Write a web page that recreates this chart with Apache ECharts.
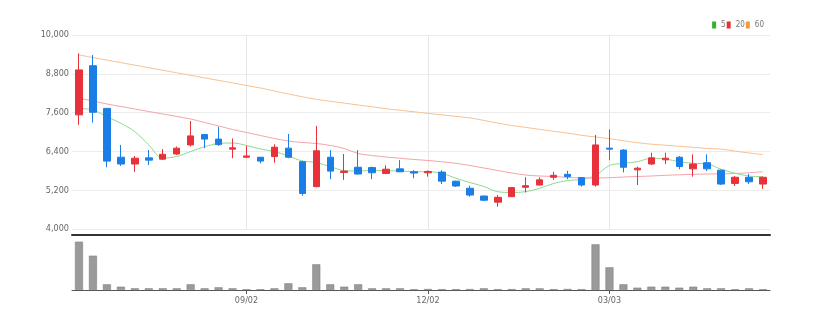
<!DOCTYPE html>
<html><head><meta charset="utf-8">
<script src="https://cdn.jsdelivr.net/npm/echarts@6/dist/echarts.min.js"></script>
<style>html,body{margin:0;padding:0;background:#fff}#c{width:820px;height:326px}</style>
</head><body><div id="c"></div>
<script>
const dates = ['06/10','06/17','06/24','07/01','07/08','07/15','07/22','07/29','08/05','08/12','08/19','08/26',
'09/02','09/09','09/16','09/23','09/30','10/07','10/14','10/21','10/28','11/04','11/11','11/18','11/25',
'12/02','12/09','12/16','12/23','12/30','01/06','01/13','01/20','01/27','02/03','02/10','02/17','02/24',
'03/03','03/10','03/17','03/24','03/31','04/07','04/14','04/21','04/28','05/05','05/12','05/19'];
const shownLabels = ['09/02','12/02','03/03'];
// [open, close, low, high]
const ohlc = [
[7530,8920,7220,9430],[9050,7610,7290,9380],[7730,6100,5910,7730],[6220,6010,5950,6600],[6010,6190,5770,6260],
[6200,6130,5980,6440],[6160,6310,6130,6470],[6320,6500,6290,6550],[6600,6880,6550,7340],[6920,6780,6500,6930],
[6780,6610,6570,7160],[6470,6510,6190,6800],[6220,6260,6190,6570],[6220,6100,6030,6230],[6240,6530,6050,6620],
[6500,6220,6190,6940],[6080,5100,5030,6110],[5310,6420,5290,7190],[6220,5790,5540,6440],[5750,5790,5520,6320],
[5910,5700,5690,6440],[5900,5740,5540,5930],[5720,5850,5700,5970],[5860,5770,5760,6130],[5770,5730,5570,5820],
[5740,5780,5620,5810],[5760,5480,5390,5820],[5480,5330,5300,5490],[5260,5050,5000,5340],[5020,4890,4860,5030],
[4830,4980,4690,5050],[5000,5280,4990,5290],[5290,5340,5130,5600],[5360,5520,5350,5600],[5600,5660,5520,5770],
[5690,5620,5540,5800],[5590,5360,5310,5600],[5360,6600,5310,6910],[6500,6470,6130,7080],[6440,5910,5750,6470],
[5830,5880,5360,5930],[6010,6200,5980,6360],[6140,6190,6010,6360],[6220,5930,5850,6260],[5860,6010,5620,6310],
[6050,5860,5790,6310],[5820,5390,5360,5840],[5410,5600,5330,5640],[5600,5460,5390,5700],[5390,5600,5240,5620]];
const ma5 = [7727,7681,7473,7269,7010,6598,6196,6242,6397,6546,6645,6660,6583,6474,6397,6258,6103,6057,5927,5809,
5794,5809,5800,5794,5772,5772,5723,5568,5438,5315,5154,5129,5154,5259,5407,5500,5531,5655,5964,6032,
6082,6187,6165,6082,6032,6010,5847,5723,5639,5618];
const ma20 = [8043,7959,7866,7789,7712,7634,7557,7480,7402,7294,7186,7078,6985,6892,6799,6722,6675,6645,6583,6490,
6335,6273,6227,6187,6150,6119,6078,6032,5964,5887,5809,5732,5670,5639,5624,5599,5577,5577,5587,5608,
5624,5639,5661,5676,5692,5701,5707,5717,5738,5772];
const ma60 = [9382,9304,9224,9147,9066,8989,8911,8831,8754,8673,8596,8518,8438,8361,8268,8176,8089,8009,7950,7894,
7835,7780,7721,7671,7625,7576,7529,7483,7436,7359,7276,7201,7143,7081,7022,6966,6898,6846,6793,6731,
6669,6623,6592,6558,6527,6490,6471,6409,6351,6301];
const volume = [483000,343000,57000,33000,17000,17000,17000,17000,57000,17000,27000,17000,7000,7000,17000,67000,27000,257000,57000,33000,
57000,17000,17000,17000,7000,10000,8000,8000,9000,17000,8000,9000,17000,17000,8000,10000,8000,457000,227000,57000,
23000,33000,33000,23000,33000,17000,17000,7000,17000,7000];
const yTicks = {min:4000, max:10000, interval:1200};

const FONT = "'Liberation Sans Narrow','DejaVu Sans Condensed','Roboto Condensed','Liberation Sans',sans-serif";
const showIdx = (i) => shownLabels.indexOf(dates[i]) >= 0;
const chart = echarts.init(document.getElementById('c'));
chart.setOption({
  animation:false,
  backgroundColor:'#fff',
  legend:{top:16,right:51,itemWidth:4,itemHeight:7,itemGap:1,icon:'rect',
    textStyle:{fontSize:8,color:'#777',fontFamily:FONT},
    data:['5','20','60']},
  grid:[{left:72,width:698,top:35,height:194},{left:72,width:698,top:235,height:55}],
  xAxis:[
    {type:'category',gridIndex:0,data:dates,boundaryGap:true,offset:6,
     axisLine:{show:true,lineStyle:{color:'#333',width:2}},axisTick:{show:false},axisLabel:{show:false},
     splitLine:{show:false}},
    {type:'category',gridIndex:1,data:dates,boundaryGap:true,
     axisLine:{show:true,lineStyle:{color:'#555',width:1}},
     axisTick:{show:true,alignWithLabel:true,interval:(i)=>showIdx(i),length:4,lineStyle:{color:'#555'}},
     axisLabel:{show:true,interval:(i)=>showIdx(i),fontSize:9,color:'#666',fontFamily:FONT,margin:6},
     splitLine:{show:false}}
  ],
  yAxis:[
    {type:'value',gridIndex:0,min:yTicks.min,max:yTicks.max,interval:yTicks.interval,
     axisLine:{show:false},axisTick:{show:false},
     axisLabel:{fontSize:9,color:'#666',fontFamily:FONT,margin:3},
     splitLine:{lineStyle:{color:'#ececec'}}},
    {type:'value',gridIndex:1,min:0,max:550000,show:false,splitLine:{show:false}}
  ],
  series:[
    {type:'candlestick',xAxisIndex:0,yAxisIndex:0,data:ohlc,barWidth:7,z:3,
     itemStyle:{color:'#e8313b',color0:'#1b7ee6',borderColor:'#e8313b',borderColor0:'#1b7ee6',borderWidth:1},
     markLine:{silent:true,symbol:'none',label:{show:false},animation:false,z:1,
       lineStyle:{color:'#e6e6e6',width:1,type:'solid'},
       data:shownLabels.map(d=>({xAxis:d}))}},
    {name:'5',type:'line',data:ma5,smooth:0.35,symbol:'none',z:2,
     itemStyle:{color:'#2db52d'},lineStyle:{color:'#8fd98f',width:1}},
    {name:'20',type:'line',data:ma20,smooth:0.35,symbol:'none',z:2,
     itemStyle:{color:'#e8313b'},lineStyle:{color:'#f5a3a8',width:1}},
    {name:'60',type:'line',data:ma60,smooth:0.35,symbol:'none',z:2,
     itemStyle:{color:'#f59a3a'},lineStyle:{color:'#f8c193',width:1}},
    {type:'bar',xAxisIndex:1,yAxisIndex:1,data:volume,barWidth:8,
     itemStyle:{color:'#9a9a9a',borderColor:'#7a7a7a',borderWidth:0.5}}
  ]
});
</script></body></html>
